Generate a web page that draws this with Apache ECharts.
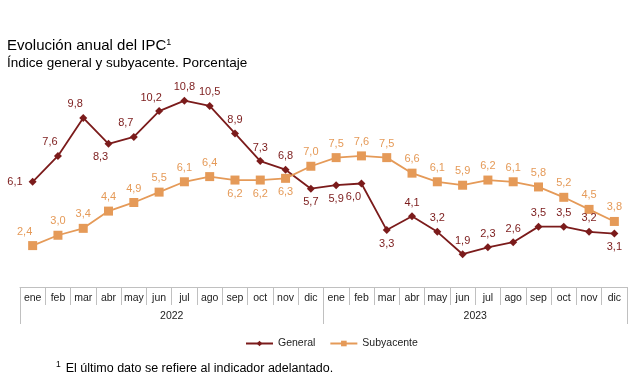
<!DOCTYPE html>
<html><head><meta charset="utf-8">
<script src="https://cdn.jsdelivr.net/npm/echarts@6/dist/echarts.min.js"></script>
<style>html,body{margin:0;padding:0;background:#fff}#c{width:640px;height:384px}</style>
</head><body><div id="c"></div>
<script>
const months = ['ene','feb','mar','abr','may','jun','jul','ago','sep','oct','nov','dic','ene','feb','mar','abr','may','jun','jul','ago','sep','oct','nov','dic'];
const years = ['2022','2023'];
const general = [6.1,7.6,9.8,8.3,8.7,10.2,10.8,10.5,8.9,7.3,6.8,5.7,5.9,6.0,3.3,4.1,3.2,1.9,2.3,2.6,3.5,3.5,3.2,3.1];
const subyacente = [2.4,3.0,3.4,4.4,4.9,5.5,6.1,6.4,6.2,6.2,6.3,7.0,7.5,7.6,7.5,6.6,6.1,5.9,6.2,6.1,5.8,5.2,4.5,3.8];

// label placement (style, not data)
const genPos = ['left','tl','tl','bl','tl','tl','top','top','top','top','top','bottom','bottom','bl','bottom','top','top','top','top','top','top','top','top','bottom'];
const subPos = ['tl','top','top','top','top','top','top','top','bottom','bottom','bottom','top','top','top','top','top','top','top','top','top','top','top','top','top'];

const fmt = v => String(v.toFixed(1)).replace('.', ',');
function build(vals, pos) {
  return vals.map((v, i) => {
    const p = pos[i];
    const lab = {};
    if (p === 'tl') { lab.position = 'top'; lab.offset = [-8, 0]; }
    else if (p === 'bl') { lab.position = 'bottom'; lab.offset = [-8, 0]; }
    else if (p === 'left') { lab.position = 'left'; lab.offset = [-2, 0]; }
    else lab.position = p;
    return { value: v, label: lab };
  });
}

const cGen = '#7b1b1b', cSub = '#e59a58';
const F = 'Liberation Sans, Arial, sans-serif';
const chart = echarts.init(document.getElementById('c'), null, {renderer: 'canvas'});
chart.setOption({
  animation: false,
  textStyle: { fontFamily: F },
  title: [
    { left: 2, top: 33, text: '{a|Evolución anual del IPC}{s|1}',
      textStyle: { fontWeight: 'normal', rich: { a: { fontSize: 15, color: '#000', fontWeight: 'normal', fontFamily: F }, s: { fontSize: 9, color: '#000', fontWeight: 'normal', verticalAlign: 'top', padding: [0,0,6,0], fontFamily: F } } } },
    { left: 2, top: 51, text: 'Índice general y subyacente. Porcentaje',
      textStyle: { fontSize: 13.5, fontWeight: 'normal', color: '#000', fontFamily: F } },
    { left: 51, top: 355, text: '{s|1} {a|El último dato se refiere al indicador adelantado.}',
      textStyle: { fontWeight: 'normal', rich: { a: { fontSize: 12.5, color: '#000', fontWeight: 'normal', fontFamily: F }, s: { fontSize: 8.5, color: '#000', fontWeight: 'normal', verticalAlign: 'top', padding: [0,0,6,0], fontFamily: F } } } }
  ],
  legend: {
    left: 240, top: 333, itemGap: 14, itemWidth: 27, itemHeight: 7,
    textStyle: { fontSize: 10.5, color: '#222', fontFamily: F },
    data: ['General', 'Subyacente']
  },
  grid: { left: 20, right: 13, top: 80, bottom: 97 },
  xAxis: [
    { type: 'category', data: months, boundaryGap: true,
      axisLine: { show: true, lineStyle: { color: '#c0c0c0', width: 1 } },
      axisTick: { show: true, interval: 0, length: 18, lineStyle: { color: '#c0c0c0' } },
      axisLabel: { interval: 0, fontSize: 10.5, color: '#222', margin: 6, fontFamily: F } },
    { type: 'category', data: years, boundaryGap: true, position: 'bottom', offset: 18,
      axisLine: { show: false },
      axisTick: { show: true, interval: 0, length: 19, lineStyle: { color: '#c0c0c0' } },
      axisLabel: { interval: 0, fontSize: 10.5, color: '#222', margin: 6, fontFamily: F } }
  ],
  yAxis: { type: 'value', min: 0, max: 12, show: false, splitLine: { show: false } },
  series: [
    { name: 'General', type: 'line', xAxisIndex: 0, data: build(general, genPos),
      symbol: 'diamond', symbolSize: 8, color: cGen,
      lineStyle: { color: cGen, width: 1.8 }, itemStyle: { color: cGen },
      label: { show: true, color: cGen, fontSize: 11, distance: 4, formatter: p => fmt(p.value), fontFamily: F } },
    { name: 'Subyacente', type: 'line', xAxisIndex: 0, data: build(subyacente, subPos),
      symbol: 'rect', symbolSize: 9, color: cSub,
      lineStyle: { color: cSub, width: 1.8 }, itemStyle: { color: cSub },
      label: { show: true, color: cSub, fontSize: 11, distance: 4, formatter: p => fmt(p.value), fontFamily: F } }
  ]
});
</script></body></html>
